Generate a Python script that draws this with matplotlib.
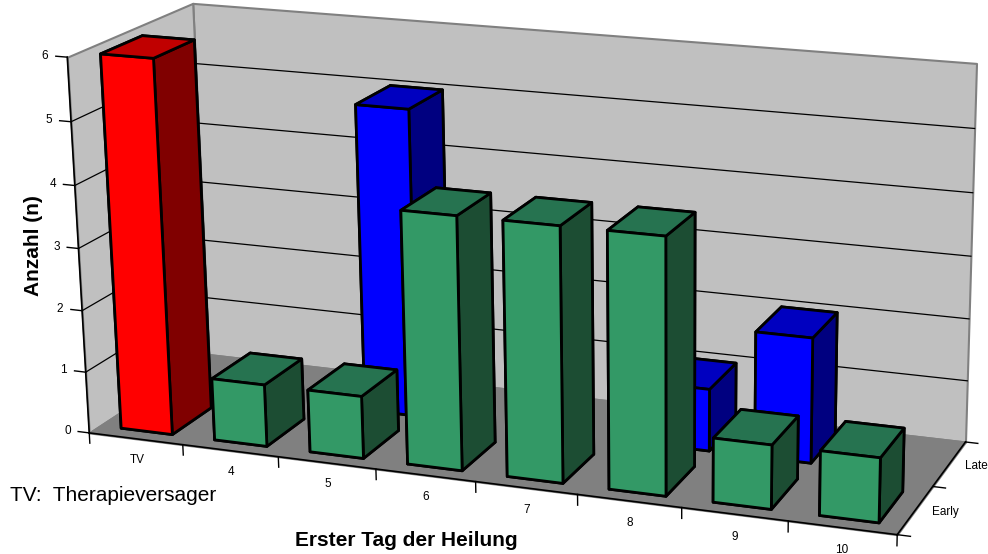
import numpy as np
import matplotlib.pyplot as plt
from mpl_toolkits.mplot3d import proj3d
from mpl_toolkits.mplot3d.art3d import Poly3DCollection

plt.rcParams['font.family'] = ['Liberation Sans', 'DejaVu Sans']

# Tage bis zur ersten Heilung, zwei Gruppen (Early vorne, Late hinten)
categories = ['TV', '4', '5', '6', '7', '8', '9', '10']
series = ['Early', 'Late']
early = [6, 1, 1, 4, 4, 4, 1, 1]
late = [0, 0, 5, 0, 0, 1, 2, 0]
zticks = [0, 1, 2, 3, 4, 5, 6]

# front / top / side colours per bar type
red = ('#FF0000', '#C00000', '#800000')
green = ('#339966', '#267350', '#1C4D33')
blue = ('#0000FF', '#0000C0', '#000080')

nx = len(categories)
ny = len(series)
zmax = zticks[-1]
xpad = 3  # empty room right of the floor, moves the view centre to the right

fig = plt.figure(figsize=(9.88, 5.54), dpi=100)
ax = fig.add_axes([-0.149, -0.966, 1.619, 2.888], projection='3d')
ax.computed_zorder = False
ax.set_proj_type('persp', focal_length=0.36)
ax.view_init(elev=17, azim=-71)
ax.set_box_aspect((9.0 * (nx + xpad) / nx, 2.8, 4.15), zoom=0.781)
ax.set_axis_off()

ax.set_xlim(0, nx + xpad, view_margin=0)
ax.set_ylim(0, ny, view_margin=0)
ax.set_zlim(0, zmax, view_margin=0)


def label(x, y, z, s, **kw):
    # place a 2D text at the projected position of a 3D point
    px, py, _ = proj3d.proj_transform(x, y, z, ax.get_proj())
    ax.text2D(px, py, s, transform=ax.transData, **kw)


# walls and floor
wall_kw = dict(edgecolor='#808080', linewidth=1.5, zorder=0)
floor = [[(0, 0, 0), (nx, 0, 0), (nx, ny, 0), (0, ny, 0)]]
back = [[(0, ny, 0), (nx, ny, 0), (nx, ny, zmax), (0, ny, zmax)]]
left = [[(0, 0, 0), (0, ny, 0), (0, ny, zmax), (0, 0, zmax)]]
ax.add_collection3d(Poly3DCollection(back, facecolor='#C0C0C0', **wall_kw))
ax.add_collection3d(Poly3DCollection(left, facecolor='#C0C0C0', **wall_kw))
ax.add_collection3d(Poly3DCollection(floor, facecolor='#808080', **wall_kw))

# horizontal gridlines on both walls
for k in zticks[1:-1]:
    ax.plot([0, 0, nx], [0, ny, ny], [k, k, k], color='black', lw=0.9, zorder=0.5)

# value axis
ax.plot([0, 0], [0, 0], [0, zmax], color='black', lw=1.2, zorder=0.6)
for k in zticks:
    ax.plot([0, -0.12], [0, 0], [k, k], color='black', lw=1.0, zorder=0.6)
    label(-0.2, 0, k, str(k), ha='right', va='center', fontsize=8.5)

# category axis
ax.plot([0, nx], [0, 0], [0, 0], color='black', lw=1.2, zorder=3)
for i in range(nx + 1):
    ax.plot([i, i], [0, 0], [0, -0.17], color='black', lw=1.0, zorder=3)
for i, c in enumerate(categories):
    label(i + 0.5, 0, -0.35, c, ha='center', va='center', fontsize=8.5)

# series axis
ax.plot([nx, nx], [0, ny], [0, 0], color='black', lw=1.2, zorder=3)
for j in range(ny + 1):
    ax.plot([nx, nx + 0.12], [j, j], [0, 0], color='black', lw=1.0, zorder=3)
for j, s in enumerate(series):
    label(nx + 0.15, j + 0.5, 0, s, ha='left', va='center', fontsize=8.5)

# bars: back row first, then front row, each from left to right
bw, bd = 0.55, 0.65
for row, vals in ((1, late), (0, early)):
    for i, v in enumerate(vals):
        if v == 0:
            continue
        if row == 0:
            front, top, side = red if categories[i] == 'TV' else green
        else:
            front, top, side = blue
        # face order: bottom, top, front, back, left, right
        cols = [front, top, front, front, front, side]
        ax.bar3d(i + 0.5 - bw / 2, row + 0.5 - bd / 2, 0, bw, bd, v,
                 color=cols, shade=False, edgecolor='black', linewidth=2,
                 zorder=2 - row)

fig.text(0.034, 0.557, 'Anzahl (n)', rotation=90, ha='center', va='center',
         fontsize=15, fontweight='bold')
fig.text(0.411, 0.025, 'Erster Tag der Heilung', ha='center', va='center',
         fontsize=15, fontweight='bold')
fig.text(0.01, 0.106, 'TV:  Therapieversager', ha='left', va='center',
         fontsize=15)

fig.savefig('out.png', dpi=100)
